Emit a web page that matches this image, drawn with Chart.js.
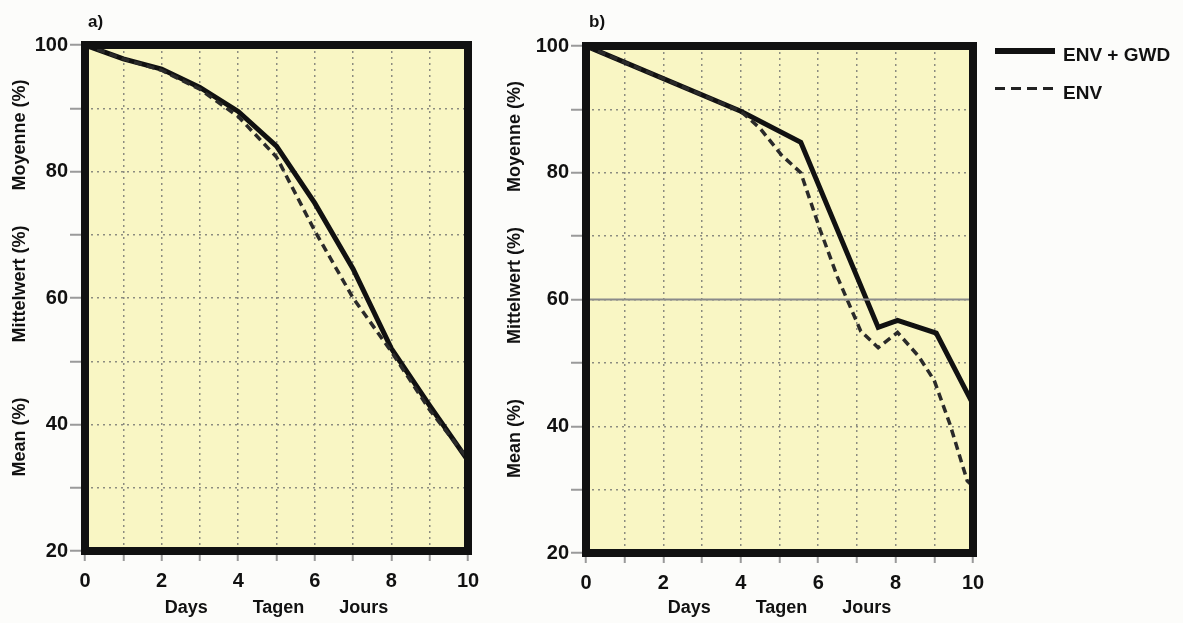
<!DOCTYPE html>
<html>
<head>
<meta charset="utf-8">
<script src="https://cdn.jsdelivr.net/npm/chart.js@4.4.1/dist/chart.umd.min.js"></script>
<style>
  body { margin: 0; background: #fcfcfa; width: 1183px; height: 623px; overflow: hidden; position: relative;
         font-family: "Liberation Sans", Arial, sans-serif; font-weight: bold; color: #111; }
  canvas { position: absolute; top: 0; }
  .lbl { position: absolute; font-size: 17px; line-height: 20px; }
  .leg { position: absolute; font-size: 19px; line-height: 22px; }
</style>
</head>
<body>
<canvas id="chartA" width="500" height="623" style="left:0px"></canvas>
<canvas id="chartB" width="683" height="623" style="left:500px"></canvas>
<div class="lbl" style="left:88px; top:12px;">a)</div>
<div class="lbl" style="left:589px; top:12px;">b)</div>
<div style="position:absolute; left:995px; top:48px; width:60px; height:6px; background:#111;"></div>
<div class="leg" style="left:1063px; top:44px;">ENV + GWD</div>
<div style="position:absolute; left:995px; top:87px; width:58px; height:3px; background:repeating-linear-gradient(90deg,#222 0 10px,transparent 10px 16px);"></div>
<div class="leg" style="left:1063px; top:82px;">ENV</div>
<script>
// a) panel
const daysA = [0, 1, 2, 3, 4, 5, 6, 7, 8, 9, 10];
const envGwdA = [100, 97.8, 96.2, 93.3, 89.5, 84, 75, 64.6, 52, 43, 34.3];
const envA = [100, 97.8, 96, 93, 88.7, 82.3, 70.6, 60, 51.5, 42.3, 34.5];

// b) panel
const daysB_envGwd = [0, 4, 5.55, 7.55, 8.05, 9.05, 10];
const envGwdB = [100, 89.7, 84.8, 55.6, 56.7, 54.7, 43.5];
const daysB_env = [0, 4, 4.5, 5.05, 5.55, 6.05, 6.5, 7.1, 7.55, 8.05, 8.6, 9, 9.4, 9.85, 10];
const envB = [100, 89.7, 87, 82.8, 80, 71, 63.5, 55, 52.4, 54.8, 51, 47.2, 40.4, 31.4, 30.5];
const refDaysB = [0, 10];
const refLineB = [60, 60];

const xTickLabels = [0, 2, 4, 6, 8, 10];
const yTickLabels = [20, 40, 60, 80, 100];
const xTitle = "Days         Tagen       Jours";
const yTitle = "        Mean (%)           Mittelwert (%)       Moyenne (%)";

function toPoints(xs, ys) {
    return xs.map((x, i) => ({ x: x, y: ys[i] }));
}

// yellow plot background + heavy frame
const framePlugin = {
    id: "frame",
    beforeDraw(chart) {
        const a = chart.chartArea;
        chart.ctx.save();
        chart.ctx.fillStyle = "#f9f6c4";
        chart.ctx.fillRect(a.left, a.top, a.right - a.left, a.bottom - a.top);
        chart.ctx.restore();
    },
    afterDatasetsDraw(chart) {
        const a = chart.chartArea;
        const ctx = chart.ctx;
        ctx.save();
        ctx.strokeStyle = "#111";
        ctx.lineWidth = 8;
        ctx.strokeRect(a.left, a.top, a.right - a.left, a.bottom - a.top);
        ctx.restore();
    }
};

function makeChart(id, datasets, yWidth, xHeight, pad, titlePadLeft) {
    const ctx = document.getElementById(id).getContext("2d");
    return new Chart(ctx, {
        type: "line",
        data: { datasets: datasets },
        options: {
            responsive: false,
            animation: false,
            layout: { padding: pad },
            plugins: { legend: { display: false }, tooltip: { enabled: false } },
            elements: { point: { radius: 0 }, line: { tension: 0 } },
            scales: {
                x: {
                    type: "linear", min: 0, max: 10,
                    afterFit: (s) => { s.height = xHeight; },
                    ticks: {
                        stepSize: 1, padding: 8, color: "#111",
                        font: { family: "Liberation Sans, Arial", size: 20, weight: "bold" },
                        maxRotation: 0, autoSkip: false,
                        callback: (v) => xTickLabels.includes(v) ? String(v) : ""
                    },
                    grid: { color: "#8c8c80", lineWidth: 1.5, tickLength: 10, tickColor: "#9a9a9a", tickWidth: 2 },
                    border: { display: false, dash: [2, 4] },
                    title: { display: true, text: xTitle, color: "#111", padding: { top: 0, bottom: 4 },
                             font: { family: "Liberation Sans, Arial", size: 18, weight: "bold" } }
                },
                y: {
                    min: 20, max: 100,
                    afterFit: (s) => { s.width = yWidth; },
                    ticks: {
                        stepSize: 10, padding: 2, color: "#111",
                        font: { family: "Liberation Sans, Arial", size: 20, weight: "bold" },
                        callback: (v) => yTickLabels.includes(v) ? String(v) : ""
                    },
                    grid: { color: "#8c8c80", lineWidth: 1.5, tickLength: 15, tickColor: "#9a9a9a", tickWidth: 2 },
                    border: { display: false, dash: [2, 4] },
                    title: { display: true, text: yTitle, color: "#111", padding: { top: titlePadLeft, bottom: 0 },
                             font: { family: "Liberation Sans, Arial", size: 18, weight: "bold" } }
                }
            }
        },
        plugins: [framePlugin]
    });
}

const solidStyle = { borderColor: "#111", borderWidth: 5, fill: false, borderJoinStyle: "miter" };
const dashStyle = { borderColor: "#2a2a2a", borderWidth: 3.5, borderDash: [8, 5], fill: false };

makeChart("chartA", [
    Object.assign({ label: "ENV", data: toPoints(daysA, envA) }, dashStyle),
    Object.assign({ label: "ENV + GWD", data: toPoints(daysA, envGwdA) }, solidStyle)
], 85, 72, { left: 0, top: 45, right: 32, bottom: 0 }, 9);

makeChart("chartB", [
    { label: "60", data: toPoints(refDaysB, refLineB), borderColor: "#8a8a8a", borderWidth: 2, fill: false },
    Object.assign({ label: "ENV", data: toPoints(daysB_env, envB) }, dashStyle),
    Object.assign({ label: "ENV + GWD", data: toPoints(daysB_envGwd, envGwdB) }, solidStyle)
], 86, 70, { left: 0, top: 46, right: 210, bottom: 0 }, 4);
</script>
</body>
</html>
